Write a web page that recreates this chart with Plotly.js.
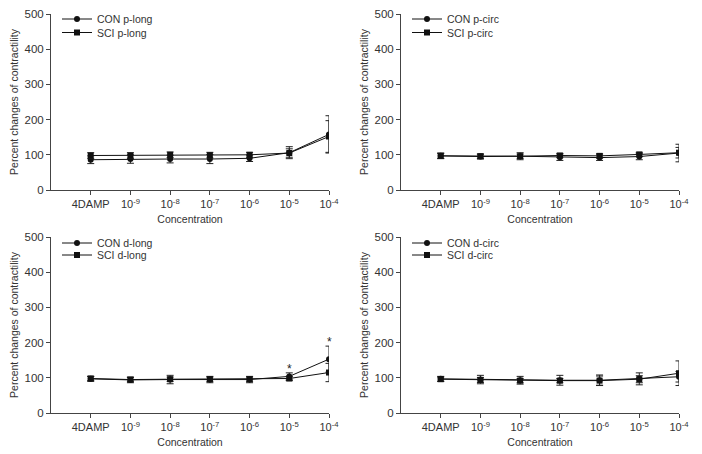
<!DOCTYPE html>
<html>
<head>
<meta charset="utf-8">
<script src="https://cdn.plot.ly/plotly-3.0.1.min.js"></script>
<style>
  html, body { margin: 0; padding: 0; background: #fff; }
  #chart { width: 702px; height: 454px; }
</style>
</head>
<body>
<div id="chart"></div>
<script>
const categories = [0, 1, 2, 3, 4, 5, 6];
const tickLabels = ['4DAMP', '10<sup>-9</sup>', '10<sup>-8</sup>', '10<sup>-7</sup>',
  '10<sup>-6</sup>', '10<sup>-5</sup>', '10<sup>-4</sup>'];

// p-long
const conPLong = [86, 88, 88, 88, 90, 106, 158];
const conPLongErr = [11, 12, 11, 13, 9, 17, 53];
const sciPLong = [98, 98, 100, 99, 100, 105, 152];
const sciPLongErr = [8, 8, 8, 8, 7, 12, 45];

// p-circ
const conPCirc = [97, 95, 96, 93, 92, 95, 105];
const conPCircErr = [8, 7, 10, 9, 8, 9, 25];
const sciPCirc = [97, 96, 96, 98, 97, 101, 106];
const sciPCircErr = [7, 6, 6, 6, 6, 6, 15];

// d-long
const conDLong = [97, 94, 95, 95, 95, 104, 153];
const conDLongErr = [7, 8, 12, 9, 9, 10, 37];
const sciDLong = [98, 95, 96, 96, 96, 98, 115];
const sciDLongErr = [6, 6, 6, 6, 6, 6, 26];

// d-circ
const conDCirc = [97, 95, 93, 93, 93, 97, 103];
const conDCircErr = [7, 12, 11, 14, 15, 17, 15];
const sciDCirc = [96, 94, 92, 92, 92, 96, 113];
const sciDCircErr = [6, 7, 6, 6, 13, 10, 35];

const panels = [
  { name: 'p-long', con: conPLong, conErr: conPLongErr, sci: sciPLong, sciErr: sciPLongErr },
  { name: 'p-circ', con: conPCirc, conErr: conPCircErr, sci: sciPCirc, sciErr: sciPCircErr },
  { name: 'd-long', con: conDLong, conErr: conDLongErr, sci: sciDLong, sciErr: sciDLongErr },
  { name: 'd-circ', con: conDCirc, conErr: conDCircErr, sci: sciDCirc, sciErr: sciDCircErr }
];
// significant points (d-long panel, CON series)
const sigIndex = [5, 6];

const W = 702, H = 454;
const fam = 'Liberation Sans, Arial, sans-serif';
const tickFont = { family: fam, size: 11, color: '#333' };
const titleFont = { family: fam, size: 10.5, color: '#333' };
const xDomains = [[51 / W, 329 / W], [401 / W, 679 / W]];
const yDomains = [[1 - 190 / H, 1 - 14 / H], [1 - 413 / H, 1 - 237 / H]];
// legend entry tops in px, per row of panels
const legendTops = [[4.5, 18], [228.5, 240.5]];

const data = [];
const layout = {
  width: W, height: H,
  margin: { l: 0, r: 0, t: 0, b: 0 },
  paper_bgcolor: '#fff', plot_bgcolor: '#fff',
  font: tickFont,
  showlegend: true,
  annotations: []
};

function addLegend(id, px, py) {
  layout[id] = {
    x: px / W, y: 1 - py / H, xanchor: 'left', yanchor: 'top',
    bgcolor: 'rgba(0,0,0,0)', borderwidth: 0,
    font: titleFont, itemwidth: 30
  };
}

panels.forEach((p, i) => {
  const n = i + 1;
  const xa = n === 1 ? 'x' : 'x' + n;
  const ya = n === 1 ? 'y' : 'y' + n;
  const col = i % 2, row = Math.floor(i / 2);
  const lgCon = i === 0 ? 'legend' : 'legend' + (2 * i + 1);
  const lgSci = 'legend' + (2 * i + 2);
  const lx = xDomains[col][0] * W + 6;
  addLegend(lgCon, lx, legendTops[row][0]);
  addLegend(lgSci, lx, legendTops[row][1]);

  const common = {
    x: categories, type: 'scatter', mode: 'lines+markers',
    xaxis: xa, yaxis: ya,
    line: { color: '#111', width: 1 }
  };
  data.push(Object.assign({}, common, {
    y: p.con, name: 'CON ' + p.name, legend: lgCon,
    marker: { symbol: 'circle', size: 6, color: '#111' },
    error_y: { type: 'data', array: p.conErr, visible: true, color: '#222', thickness: 1, width: 3.5 }
  }));
  data.push(Object.assign({}, common, {
    y: p.sci, name: 'SCI ' + p.name, legend: lgSci,
    marker: { symbol: 'square', size: 6, color: '#111' },
    error_y: { type: 'data', array: p.sciErr, visible: true, color: '#222', thickness: 1, width: 3.5 }
  }));

  layout['xaxis' + (n === 1 ? '' : n)] = {
    domain: xDomains[col], anchor: ya,
    range: [-1, 6], showgrid: false, zeroline: false,
    showline: true, linecolor: '#444', linewidth: 1,
    ticks: 'outside', ticklen: 4, tickcolor: '#444',
    tickmode: 'array', tickvals: categories, ticktext: tickLabels,
    tickfont: tickFont,
    title: { text: 'Concentration', font: titleFont, standoff: 6 }
  };
  layout['yaxis' + (n === 1 ? '' : n)] = {
    domain: yDomains[row], anchor: xa,
    range: [0, 500], showgrid: false, zeroline: false,
    showline: true, linecolor: '#444', linewidth: 1,
    ticks: 'outside', ticklen: 4, tickcolor: '#444',
    dtick: 100, tickfont: { family: fam, size: 11.5, color: '#333' },
    title: { text: 'Percent changes of contractility', font: titleFont, standoff: 3 }
  };
});

sigIndex.forEach(k => {
  layout.annotations.push({
    xref: 'x3', yref: 'y3', x: categories[k], y: conDLong[k] + conDLongErr[k],
    text: '*', showarrow: false, yanchor: 'bottom', yshift: -5,
    font: { family: fam, size: 12, color: '#222' }
  });
});

Plotly.newPlot('chart', data, layout, { staticPlot: true });
</script>
</body>
</html>
